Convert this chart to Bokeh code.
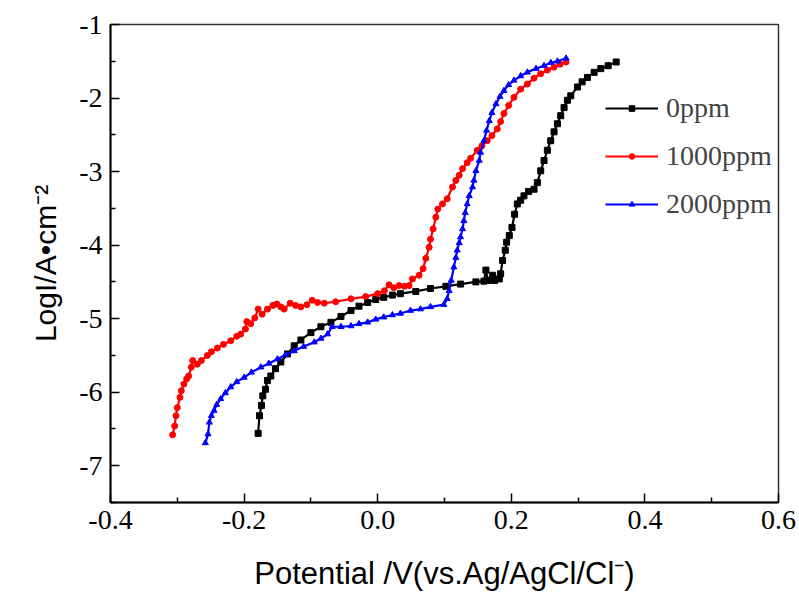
from bokeh.plotting import figure
from bokeh.models import Range1d, FixedTicker, Legend, LegendItem
from bokeh.embed import file_html
from bokeh.resources import INLINE

# ---- data (potential V, log current density) ----
x0 = [-0.179, -0.177, -0.174, -0.172, -0.168, -0.165, -0.160, -0.153, -0.145, -0.135,
      -0.125, -0.115, -0.100, -0.085, -0.070, -0.055, -0.040, -0.028, -0.015, -0.003,
      0.009, 0.022, 0.034, 0.057, 0.079, 0.102, 0.124, 0.147, 0.159, 0.162, 0.165,
      0.172, 0.175, 0.182, 0.184, 0.187, 0.191, 0.193, 0.197, 0.201, 0.205, 0.209,
      0.214, 0.219, 0.226, 0.234, 0.239, 0.244, 0.249, 0.254, 0.259, 0.264, 0.269,
      0.274, 0.279, 0.284, 0.289, 0.299, 0.306, 0.314, 0.324, 0.334, 0.345, 0.357]
y0 = [-6.56, -6.32, -6.18, -6.05, -5.96, -5.84, -5.78, -5.68, -5.59, -5.48,
      -5.37, -5.29, -5.19, -5.11, -5.05, -4.97, -4.89, -4.83, -4.78, -4.74,
      -4.71, -4.68, -4.66, -4.63, -4.59, -4.56, -4.53, -4.50, -4.49, -4.34, -4.48,
      -4.41, -4.48, -4.46, -4.39, -4.21, -4.07, -3.96, -3.87, -3.76, -3.58, -3.44,
      -3.39, -3.33, -3.27, -3.24, -3.15, -2.99, -2.85, -2.71, -2.58, -2.46, -2.35,
      -2.24, -2.13, -2.03, -1.97, -1.85, -1.78, -1.72, -1.65, -1.60, -1.56, -1.51]

x1000 = [-0.307, -0.304, -0.302, -0.300, -0.296, -0.294, -0.290, -0.286, -0.283, -0.279,
         -0.277, -0.270, -0.264, -0.255, -0.249, -0.240, -0.231, -0.220, -0.211, -0.205,
         -0.198, -0.196, -0.190, -0.184, -0.179, -0.173, -0.165, -0.157, -0.151, -0.145,
         -0.140, -0.131, -0.123, -0.115, -0.106, -0.098, -0.090, -0.080, -0.063, -0.040,
         -0.018, 0.000, 0.010, 0.017, 0.024, 0.032, 0.040, 0.047, 0.052, 0.062,
         0.068, 0.072, 0.077, 0.079, 0.083, 0.087, 0.090, 0.097, 0.104, 0.112,
         0.117, 0.122, 0.127, 0.134, 0.139, 0.149, 0.156, 0.164, 0.171, 0.179,
         0.184, 0.189, 0.196, 0.204, 0.214, 0.224, 0.234, 0.244, 0.254, 0.264,
         0.273, 0.282]
y1000 = [-6.58, -6.46, -6.32, -6.21, -6.07, -5.98, -5.89, -5.82, -5.78, -5.66,
         -5.57, -5.62, -5.57, -5.50, -5.45, -5.40, -5.35, -5.30, -5.24, -5.21,
         -5.14, -5.04, -5.07, -4.99, -4.87, -4.94, -4.87, -4.82, -4.80, -4.84,
         -4.87, -4.79, -4.82, -4.84, -4.81, -4.75, -4.78, -4.79, -4.77, -4.73,
         -4.70, -4.66, -4.62, -4.54, -4.58, -4.55, -4.56, -4.55, -4.46, -4.41,
         -4.32, -4.18, -4.03, -3.92, -3.78, -3.62, -3.51, -3.44, -3.37, -3.21,
         -3.12, -3.05, -2.96, -2.88, -2.82, -2.71, -2.65, -2.58, -2.51, -2.42,
         -2.32, -2.21, -2.10, -1.99, -1.88, -1.81, -1.73, -1.67, -1.62, -1.58,
         -1.54, -1.51]

x2000 = [-0.258, -0.254, -0.252, -0.249, -0.245, -0.241, -0.235, -0.228, -0.220, -0.211,
         -0.200, -0.189, -0.175, -0.163, -0.150, -0.138, -0.125, -0.111, -0.095, -0.085,
         -0.075, -0.068, -0.055, -0.040, -0.028, -0.015, -0.003, 0.009, 0.022, 0.034,
         0.049, 0.064, 0.079, 0.099, 0.104, 0.107, 0.110, 0.114, 0.117, 0.119,
         0.122, 0.124, 0.127, 0.129, 0.131, 0.134, 0.137, 0.142, 0.144, 0.147,
         0.152, 0.154, 0.159, 0.163, 0.167, 0.171, 0.177, 0.183, 0.189, 0.196,
         0.204, 0.214, 0.224, 0.237, 0.249, 0.259, 0.269, 0.282]
y2000 = [-6.69, -6.57, -6.41, -6.32, -6.25, -6.17, -6.09, -6.01, -5.93, -5.86,
         -5.80, -5.73, -5.66, -5.61, -5.55, -5.49, -5.44, -5.38, -5.32, -5.27,
         -5.21, -5.11, -5.11, -5.10, -5.07, -5.05, -5.01, -4.98, -4.95, -4.93,
         -4.89, -4.87, -4.84, -4.81, -4.73, -4.62, -4.48, -4.30, -4.17, -4.07,
         -3.97, -3.89, -3.78, -3.67, -3.56, -3.44, -3.33, -3.21, -3.12, -2.99,
         -2.85, -2.74, -2.58, -2.44, -2.31, -2.20, -2.08, -1.98, -1.90, -1.82,
         -1.76, -1.70, -1.65, -1.60, -1.56, -1.52, -1.50, -1.46]

series_names = ["0ppm", "1000ppm", "2000ppm"]
series_colors = ["#000000", "#ff0000", "#0000ff"]
series_markers = ["square", "circle", "triangle"]

x_major = [-0.4, -0.2, 0.0, 0.2, 0.4, 0.6]
x_minor = [-0.3, -0.1, 0.1, 0.3, 0.5]
y_major = [-7, -6, -5, -4, -3, -2, -1]
y_minor = [-7.5, -6.5, -5.5, -4.5, -3.5, -2.5, -1.5]

x_title = "Potential /V(vs.Ag/AgCl/Cl\u207b)"
y_title = "LogI/A\u2022cm\u207b\u00b2"

p = figure(width=799, height=596, output_backend="svg", toolbar_location=None,
           x_range=Range1d(-0.4, 0.6), y_range=Range1d(-7.5, -1),
           min_border_left=110, min_border_right=21, min_border_top=24, min_border_bottom=94)
p.grid.visible = False
p.background_fill_color = "white"
p.border_fill_color = "white"
p.outline_line_color = "#333333"
p.outline_line_width = 1.5

TICK_FONT = "Liberation Serif"
for ax in (p.xaxis[0], p.yaxis[0]):
    ax.axis_line_width = 2
    ax.axis_line_color = "black"
    ax.major_tick_in = 9
    ax.major_tick_out = 0
    ax.minor_tick_in = 5
    ax.minor_tick_out = 0
    ax.major_tick_line_width = 1.5
    ax.minor_tick_line_width = 1.5
    ax.major_label_text_font = TICK_FONT
    ax.major_label_text_font_size = "28px"
    ax.major_label_text_color = "black"
    ax.major_label_standoff = 8
    ax.axis_label_text_font = "Liberation Sans"
    ax.axis_label_text_font_style = "normal"
    ax.axis_label_text_color = "black"

p.xaxis.ticker = FixedTicker(ticks=x_major, minor_ticks=x_minor)
p.yaxis.ticker = FixedTicker(ticks=y_major, minor_ticks=y_minor)
p.xaxis.major_label_overrides = {v: f"{v:.1f}" for v in x_major}
p.yaxis.major_label_overrides = {v: f"{v:d}" for v in y_major}

p.xaxis.axis_label = x_title
p.xaxis.axis_label_text_font_size = "31px"
p.xaxis.axis_label_standoff = 24
p.yaxis.axis_label = y_title
p.yaxis.axis_label_text_font_size = "30px"
p.yaxis.axis_label_standoff = 14

items = []
for (xs, ys), name, col, mk in zip([(x0, y0), (x1000, y1000), (x2000, y2000)],
                                    series_names, series_colors, series_markers):
    ln = p.line(xs, ys, line_color=col, line_width=2.2)
    sc = p.scatter(xs, ys, marker=mk, size=6, fill_color=col, line_color=col)
    items.append(LegendItem(label=name, renderers=[ln, sc]))

legend = Legend(items=items, location=(495, 278), glyph_width=53, glyph_height=14,
                label_height=40, spacing=8, padding=0, margin=0,
                label_text_font=TICK_FONT, label_text_font_size="28px",
                label_standoff=8, border_line_alpha=0, background_fill_alpha=0)
p.add_layout(legend)

open("out.html", "w").write(file_html(p, INLINE))
